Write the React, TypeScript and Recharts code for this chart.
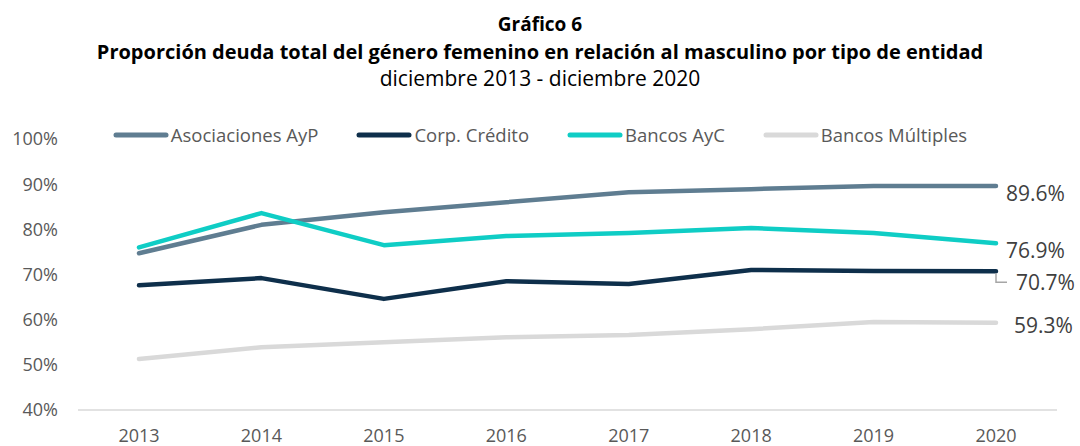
import React from "react";
import { LineChart, Line, XAxis, YAxis } from "recharts";

const years = ["2013", "2014", "2015", "2016", "2017", "2018", "2019", "2020"];
const asociaciones = [74.7, 81.0, 83.8, 86.0, 88.2, 88.9, 89.6, 89.6];
const bancosAyC = [76.0, 83.6, 76.5, 78.5, 79.2, 80.3, 79.2, 76.9];
const corpCredito = [67.6, 69.2, 64.6, 68.5, 67.9, 71.0, 70.8, 70.7];
const bancosMultiples = [51.3, 53.9, 55.0, 56.1, 56.6, 57.9, 59.5, 59.3];
const yTicks = [40, 50, 60, 70, 80, 90, 100];

const data = years.map((y, i) => ({
  year: y,
  asoc: asociaciones[i],
  corp: corpCredito[i],
  bayc: bancosAyC[i],
  bmult: bancosMultiples[i],
}));

const series = [
  { key: "asoc", name: "Asociaciones AyP", color: "#5f7d91", dx: 10, dy: 8, leader: false },
  { key: "corp", name: "Corp. Crédito", color: "#0e2f4b", dx: 20, dy: 11, leader: true },
  { key: "bayc", name: "Bancos AyC", color: "#0fcdc5", dx: 10, dy: 7, leader: false },
  { key: "bmult", name: "Bancos Múltiples", color: "#d9d9d9", dx: 18, dy: 3, leader: false },
];

const FONT = "'Open Sans', sans-serif";

const makeLabel = (dx: number, dy: number, leader: boolean) => (props: any) => {
  const { x, y, index, value } = props;
  if (index !== years.length - 1) return null;
  return (
    <g>
      {leader && (
        <polyline
          points={`${x},${y + 2} ${x},${y + dy} ${x + dx - 9},${y + dy}`}
          fill="none"
          stroke="#a6a6a6"
          strokeWidth={1.5}
        />
      )}
      <text
        x={x + dx}
        y={y + dy}
        dy="0.35em"
        fontSize={21}
        fill="#404040"
        fontFamily={FONT}
      >
        {`${value.toFixed(1)}%`}
      </text>
    </g>
  );
};

export default function App() {
  return (
    <div style={{ position: "absolute", left: 0, top: 0, width: 1080, height: 446, background: "#fff" }}>
      <div
        style={{
          position: "absolute",
          left: 0,
          top: 0,
          width: 1080,
          textAlign: "center",
          fontFamily: FONT,
          color: "#000",
          zIndex: 2,
        }}
      >
        <div style={{ position: "absolute", top: 11, width: 1080, fontSize: 19, fontWeight: 700 }}>Gráfico 6</div>
        <div style={{ position: "absolute", top: 38, width: 1080, fontSize: 20, fontWeight: 700 }}>
          Proporción deuda total del género femenino en relación al masculino por tipo de entidad
        </div>
        <div style={{ position: "absolute", top: 64, width: 1080, fontSize: 21 }}>
          diciembre 2013 - diciembre 2020
        </div>
      </div>
      <div
        style={{
          position: "absolute",
          top: 122,
          left: 0,
          width: 1080,
          display: "flex",
          justifyContent: "center",
          gap: 38,
          fontFamily: FONT,
          fontSize: 18.5,
          color: "#595959",
          zIndex: 2,
        }}
      >
        {series.map((s) => (
          <div key={s.key} style={{ display: "flex", alignItems: "center" }}>
            <svg width={56} height={10}>
              <line x1={3} y1={5} x2={53} y2={5} stroke={s.color} strokeWidth={5} strokeLinecap="round" />
            </svg>
            <span style={{ marginLeft: 2 }}>{s.name}</span>
          </div>
        ))}
      </div>
      <LineChart
        width={1080}
        height={446}
        data={data}
        margin={{ top: 139, right: 23, bottom: 6, left: 0 }}
      >
        <XAxis
          dataKey="year"
          height={30}
          padding={{ left: 61, right: 61 }}
          tickLine={false}
          tickSize={0}
          tickMargin={19}
          axisLine={{ stroke: "#d9d9d9", strokeWidth: 1.5 }}
          tick={{ fontSize: 18, fill: "#595959", fontFamily: FONT }}
          interval={0}
        />
        <YAxis
          width={78}
          domain={[40, 100]}
          ticks={yTicks}
          tickFormatter={(v: number) => `${v}%`}
          axisLine={false}
          tickLine={false}
          tickSize={0}
          tickMargin={20}
          tick={{ fontSize: 18, fill: "#595959", fontFamily: FONT }}
        />
        {series.map((s) => (
          <Line
            key={s.key}
            dataKey={s.key}
            name={s.name}
            stroke={s.color}
            strokeWidth={4.5}
            strokeLinecap="round"
            strokeLinejoin="round"
            dot={false}
            activeDot={false}
            isAnimationActive={false}
            label={makeLabel(s.dx, s.dy, s.leader)}
          />
        ))}
      </LineChart>
    </div>
  );
}
